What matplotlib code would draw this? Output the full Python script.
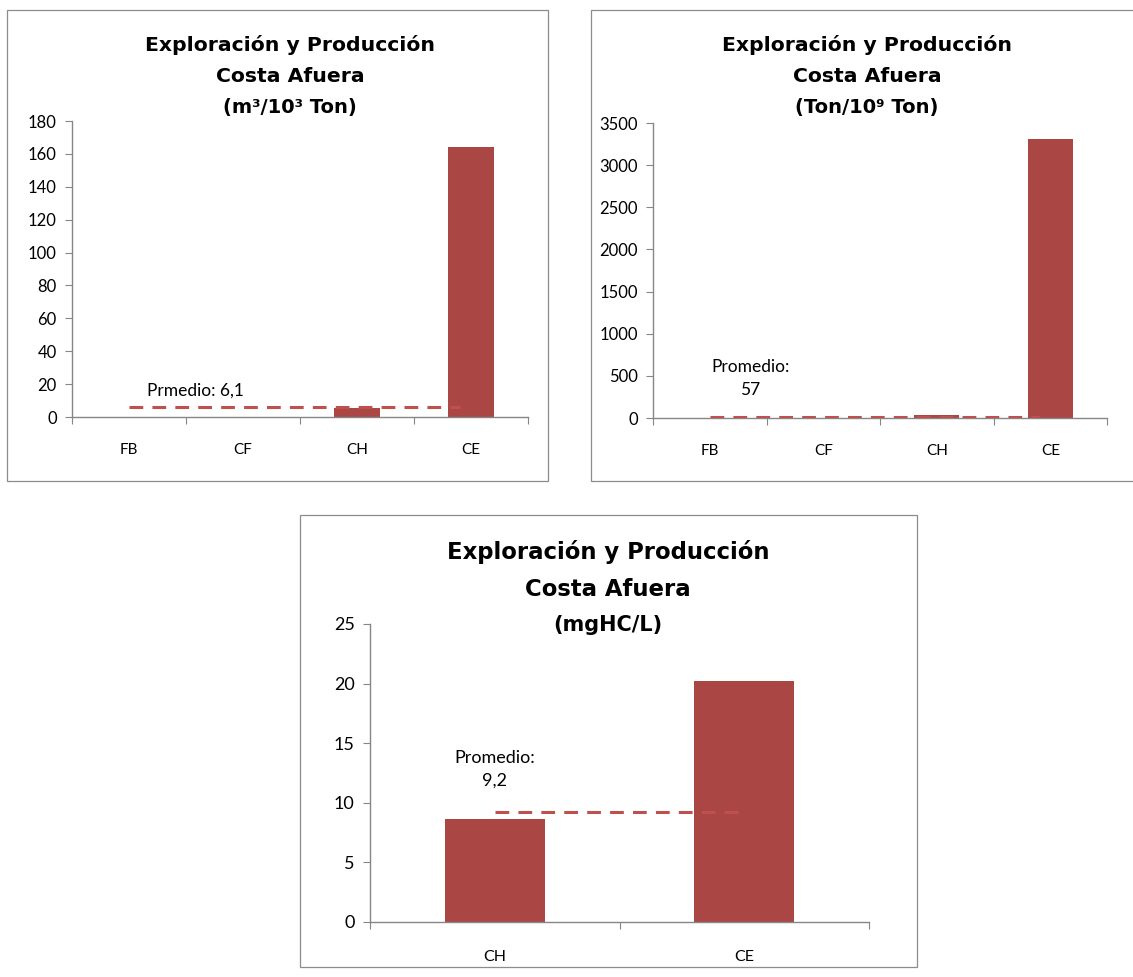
import matplotlib
matplotlib.use("Agg")
import matplotlib.pyplot as plt
from matplotlib.patches import Rectangle

plt.rcParams['font.family'] = ['Lato', 'DejaVu Sans']

# data
cats_a = ['FB', 'CF', 'CH', 'CE']
agua_vals = [0, 0, 5.6, 164]          # m3/10^3 Ton
agua_prom = 6.1
agua_label = 'Prmedio: 6,1'
hc_vals = [0, 0, 38, 3310]            # Ton/10^9 Ton
hc_prom = 8                           # line sits on the axis in the picture
hc_label = 'Promedio:\n57'
cats_b = ['CH', 'CE']
mg_vals = [8.65, 20.2]                # mgHC/L
mg_prom = 9.2
mg_label = 'Promedio:\n9,2'

title_l1 = 'Exploración y Producción'
title_l2 = 'Costa Afuera'
units = ['(m³/10³ Ton)', '(Ton/10⁹ Ton)', '(mgHC/L)']

BAR = '#AA4643'
LINE = '#C0504D'
AXC = '#868686'
TFONT = ['DejaVu Sans']
W, H = 1133, 977

fig = plt.figure(figsize=(W / 100, H / 100), dpi=100)
fig.patch.set_facecolor('white')


def px_axes(l, r, t, b):
    return fig.add_axes([l / W, 1 - b / H, (r - l) / W, (b - t) / H])


def frame(l, r, t, b):
    fig.add_artist(Rectangle((l / W, 1 - b / H), (r - l) / W, (b - t) / H,
                             transform=fig.transFigure, fill=False,
                             edgecolor='#8c8c8c', linewidth=0.9))


def titles(cx, ys, unit, size, usize):
    for y, s, fs in zip(ys, [title_l1, title_l2, unit], [size, size, usize]):
        fig.text(cx / W, 1 - y / H, s, ha='center', va='center',
                 fontsize=fs, fontweight='bold', family=TFONT)


def bar_chart(ax, cats, vals, prom, ymax, ystep, ytick_fs, xtick_fs, xpad,
              line_cut=0.0):
    n = len(cats)
    x = list(range(n))
    ax.bar(x, vals, width=0.4, color=BAR, zorder=2)
    # average line runs from the first category to (about) the last one
    ax.plot([0, n - 1 - line_cut], [prom, prom], color=LINE, lw=2.2,
            dashes=[4.5, 3], zorder=3)
    ax.set_xlim(-0.5, n - 0.5)
    ax.set_ylim(0, ymax)
    ax.set_yticks(range(0, ymax + 1, ystep))
    ax.set_xticks([i - 0.5 for i in range(n + 1)])
    ax.set_xticklabels([])
    ax.set_xticks(x, minor=True)
    ax.set_xticklabels(cats, minor=True, fontsize=xtick_fs)
    ax.tick_params(axis='x', which='minor', length=0, pad=xpad)
    ax.tick_params(axis='x', which='major', length=5, color=AXC, direction='out')
    ax.tick_params(axis='y', length=5, color=AXC, labelsize=ytick_fs, pad=6)
    for s in ['top', 'right']:
        ax.spines[s].set_visible(False)
    for s in ['left', 'bottom']:
        ax.spines[s].set_color(AXC)
        ax.spines[s].set_linewidth(1.0)
    ax.patch.set_alpha(0)


# chart 1
frame(7, 548, 10, 481)
ax1 = px_axes(72, 528, 121, 417)
bar_chart(ax1, cats_a, agua_vals, agua_prom, 180, 20, 12, 11, 19, 0.1)
ax1.text(0.58, 16, agua_label, ha='center', va='center', fontsize=12.5)
titles(290, [45, 76, 108], units[0], 14.7, 14)

# chart 2
frame(591, 1140, 10, 481)
ax2 = px_axes(653, 1107, 123, 418)
bar_chart(ax2, cats_a, hc_vals, hc_prom, 3500, 500, 12, 11, 19, 0.1)
ax2.text(0.36, 470, hc_label, ha='center', va='center', fontsize=12.5,
         linespacing=1.5)
titles(867, [45, 76, 108], units[1], 14.7, 14)

# chart 3
frame(300, 917, 515, 967)
ax3 = px_axes(370, 869, 624, 922)
bar_chart(ax3, cats_b, mg_vals, mg_prom, 25, 5, 13, 11.5, 20, 0.0)
ax3.text(0.0, 12.8, mg_label, ha='center', va='center', fontsize=13,
         linespacing=1.5)
titles(608, [552, 589, 625], units[2], 16.4, 15)

fig.savefig('out.png', dpi=100)
